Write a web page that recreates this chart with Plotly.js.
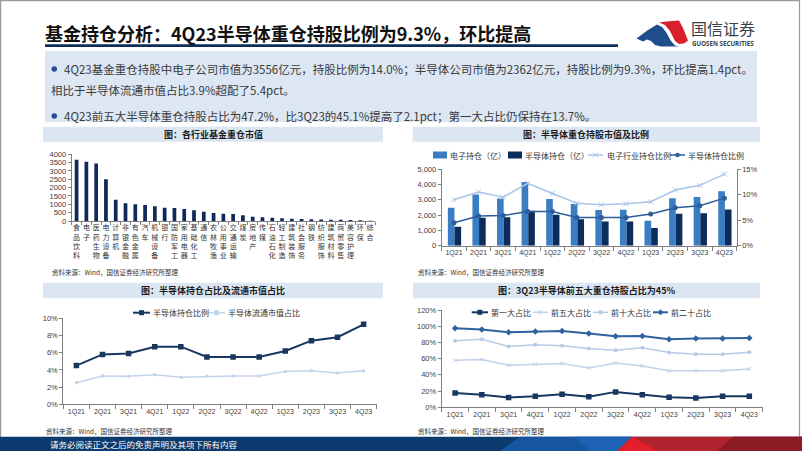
<!DOCTYPE html>
<html><head><meta charset="utf-8">
<script src="https://cdn.plot.ly/plotly-3.0.1.min.js"></script>
<style>html,body{margin:0;padding:0;background:#fff;overflow:hidden}#c{width:802px;height:451px}</style>
</head><body><div id="c"></div>
<script>
// ---------- data ----------
const industries = ['食品饮料','电子','医药生物','电力设备','计算机','非银金融','有色金属','汽车','机械设备','银行','国防军工','家用电器','基础化工','通信','农林牧渔','公用事业','交通运输','煤炭','房地产','传媒','石油石化','轻工制造','建筑装饰','社会服务','钢铁','纺织服饰','建筑材料','商贸零售','美容护理','环保','综合'];
const industryValues = [3680,3556,3450,2500,1280,1060,1000,960,880,800,780,720,640,560,480,440,420,340,260,220,200,160,140,120,100,90,80,80,60,50,10];

const quarters = ['1Q21','2Q21','3Q21','4Q21','1Q22','2Q22','3Q22','4Q22','1Q23','2Q23','3Q23','4Q23'];
const elecHold = [2480,3330,3080,4150,3040,2720,2330,2350,1620,3090,3180,3556];
const semiHold = [1230,1820,1860,2280,2010,1720,1580,1580,1160,2080,2110,2362];
const elecRatio = [9.0,10.5,9.5,12.2,10.2,8.3,8.0,8.2,8.6,10.9,11.8,14.0];
const semiRatio = [4.5,5.8,5.9,6.7,6.7,5.5,5.5,5.5,6.2,7.4,7.8,9.3];
const semiFloatRatio = [2.5,3.3,3.25,3.45,3.15,3.25,3.3,3.3,3.8,3.9,3.65,3.9];

const top1 = [17.5,15.5,12.0,13.5,16.0,13.0,19.0,15.5,12.5,11.5,13.7,13.7];
const top5 = [58.0,59.0,52.0,53.0,54.0,48.5,54.5,51.0,45.0,45.0,45.1,47.2];
const top10 = [82.0,84.0,75.0,77.0,76.0,72.5,70.5,73.5,67.5,65.5,65.5,68.0];
const top20 = [97.5,96.0,92.5,93.5,94.0,91.0,87.5,88.0,84.0,85.0,85.0,85.5];

// ---------- helpers ----------
const W = 802, H = 451;
const X = x => x / W, Y = y => 1 - y / H;
const CN = '"Noto Sans CJK SC", sans-serif';
const NUM = '"Liberation Sans", "Noto Sans CJK SC", sans-serif';
const AX = '#7f7f7f', TXT = '#404040';

function txt(text, x, y, size, opts) {
  opts = opts || {};
  return Object.assign({text: text, x: X(x), y: Y(y), xref: 'paper', yref: 'paper', showarrow: false,
    xanchor: 'left', yanchor: 'middle', borderpad: 0, font: {family: CN, size: size, color: '#333'}}, opts);
}
function rect(x0, y0, x1, y1, fill, extra) {
  return Object.assign({type: 'rect', xref: 'paper', yref: 'paper', x0: X(x0), x1: X(x1), y0: Y(y1), y1: Y(y0),
    fillcolor: fill, line: {width: 0}, layer: 'below'}, extra || {});
}
function poly(pts, fill) {
  return {type: 'path', xref: 'paper', yref: 'paper', layer: 'above', fillcolor: fill, line: {width: 0},
    path: 'M' + pts.map(p => X(p[0]) + ',' + Y(p[1])).join('L') + 'Z'};
}
function lineSeg(x0, y0, x1, y1, color, w) {
  return {type: 'line', xref: 'paper', yref: 'paper', x0: X(x0), x1: X(x1), y0: Y(y0), y1: Y(y1), line: {color: color, width: w}};
}
function legendLine(x0, x1, y, color, w, marker) {
  const s = [lineSeg(x0, y, x1, y, color, w)];
  const cx = (x0 + x1) / 2;
  if (marker === 'square') s.push(rect(cx - 2.5, y - 2.5, cx + 2.5, y + 2.5, color, {layer: 'above'}));
  if (marker === 'circle') s.push({type: 'circle', xref: 'paper', yref: 'paper', x0: X(cx - 2.3), x1: X(cx + 2.3), y0: Y(y + 2.3), y1: Y(y - 2.3), fillcolor: color, line: {width: 0}});
  if (marker === 'diamond') s.push(poly([[cx, y - 3], [cx + 3, y], [cx, y + 3], [cx - 3, y]], color));
  if (marker === 'x') { s.push(lineSeg(cx - 2.5, y - 2.5, cx + 2.5, y + 2.5, color, 1)); s.push(lineSeg(cx - 2.5, y + 2.5, cx + 2.5, y - 2.5, color, 1)); }
  return s;
}
function baseAxis(extra) {
  return Object.assign({showgrid: false, zeroline: false, showline: true, linecolor: AX, linewidth: 1,
    ticks: 'outside', ticklen: 3, tickcolor: AX, tickfont: {family: NUM, size: 7.5, color: TXT}, fixedrange: true}, extra);
}
function catAxis(extra) {
  return baseAxis(Object.assign({type: 'category', range: [-0.5, 11.5], tickson: 'boundaries', ticklen: 4,
    tickangle: 0, tickfont: {family: NUM, size: 7, color: TXT}}, extra));
}

// ---------- traces ----------
const traces = [
  {type: 'bar', x: industries, y: industryValues, xaxis: 'x', yaxis: 'y', width: 0.38, marker: {color: '#10295a'}},
  {type: 'bar', x: quarters, y: elecHold, xaxis: 'x2', yaxis: 'y2', width: 0.27, offset: -0.25, marker: {color: '#3a7dc3'}, name: '电子持仓（亿）'},
  {type: 'bar', x: quarters, y: semiHold, xaxis: 'x2', yaxis: 'y2', width: 0.27, offset: 0.02, marker: {color: '#0c2d5c'}, name: '半导体持仓（亿）'},
  {type: 'scatter', mode: 'lines+markers', x: quarters, y: elecRatio, xaxis: 'x2', yaxis: 'y5', name: '电子行业持仓比例',
   line: {color: '#a9c4e8', width: 1.5}, marker: {symbol: 'x-thin-open', size: 5, line: {color: '#a9c4e8', width: 1}}},
  {type: 'scatter', mode: 'lines+markers', x: quarters, y: semiRatio, xaxis: 'x2', yaxis: 'y5', name: '半导体持仓比例',
   line: {color: '#2d5e99', width: 1.5}, marker: {symbol: 'circle', size: 5, color: '#2d5e99'}},
  {type: 'scatter', mode: 'lines+markers', x: quarters, y: semiRatio, xaxis: 'x3', yaxis: 'y3', name: '半导体持仓比例',
   line: {color: '#17375e', width: 2}, marker: {symbol: 'square', size: 5.5, color: '#17375e'}},
  {type: 'scatter', mode: 'lines+markers', x: quarters, y: semiFloatRatio, xaxis: 'x3', yaxis: 'y3', name: '半导体流通市值占比',
   line: {color: '#c3d4eb', width: 1.5}, marker: {symbol: 'square', size: 3, color: '#c3d4eb'}},
  {type: 'scatter', mode: 'lines+markers', x: quarters, y: top1, xaxis: 'x4', yaxis: 'y4', name: '第一大占比',
   line: {color: '#17375e', width: 2}, marker: {symbol: 'square', size: 5.5, color: '#17375e'}},
  {type: 'scatter', mode: 'lines+markers', x: quarters, y: top5, xaxis: 'x4', yaxis: 'y4', name: '前五大占比',
   line: {color: '#c2d2ea', width: 1.5}, marker: {symbol: 'x-thin-open', size: 4, line: {color: '#c2d2ea', width: 1}}},
  {type: 'scatter', mode: 'lines+markers', x: quarters, y: top10, xaxis: 'x4', yaxis: 'y4', name: '前十大占比',
   line: {color: '#b7cbe6', width: 1.5}, marker: {symbol: 'circle', size: 4, color: '#b7cbe6'}},
  {type: 'scatter', mode: 'lines+markers', x: quarters, y: top20, xaxis: 'x4', yaxis: 'y4', name: '前二十占比',
   line: {color: '#2e62a0', width: 2}, marker: {symbol: 'diamond', size: 5, color: '#2e62a0'}}
];

// ---------- shapes ----------
const shapes = [
  {type: 'rect', xref: 'paper', yref: 'paper', x0: X(0.6), x1: X(799.5), y0: Y(450.5), y1: Y(0.6), line: {color: '#9a9a9a', width: 1.2}, fillcolor: 'rgba(0,0,0,0)'},
  rect(45, 44.3, 618, 47, '#0d2d5a'),
  rect(45, 51, 757, 122, '#dde7f3'),
  {type: 'circle', xref: 'paper', yref: 'paper', x0: X(51.5), x1: X(57), y0: Y(71.8), y1: Y(66.3), fillcolor: '#2b4c8c', line: {width: 0}},
  {type: 'circle', xref: 'paper', yref: 'paper', x0: X(51.5), x1: X(57), y0: Y(118.8), y1: Y(113.3), fillcolor: '#2b4c8c', line: {width: 0}},
  rect(43, 126.7, 383, 141.7, '#dce6f2'),
  rect(412.7, 126.7, 760, 141.7, '#dce6f2'),
  rect(43, 282.7, 383, 298.3, '#dce6f2'),
  rect(413, 282.7, 760, 298.3, '#dce6f2'),
  rect(0, 436.8, 802, 451, '#0b3b6e', {layer: 'above'}),
  poly([[520, 436.8], [632, 436.8], [617, 451], [500, 451]], '#1656a0'),
  poly([[575, 436.8], [632, 436.8], [617, 451], [590, 451]], '#1d62b5'),
  poly([[632, 436.8], [802, 436.8], [802, 451], [617, 451]], '#b0232f'),
  poly([[632, 436.8], [657, 451], [617, 451]], '#e3202a'),
  poly([[733, 436.8], [802, 436.8], [802, 451], [717, 451]], '#8c1b23'),
  poly([[636.5, 38.5], [648, 30], [657, 24.5], [662, 27], [666, 32], [671, 41], [675, 45.5], [679, 46.5], [661, 46.5], [655, 45], [651, 41], [647, 39.5], [643, 41.5]], '#1f4e8c'),
  poly([[659, 22.5], [666, 21.5], [679, 20.5], [683, 28], [688, 40.5], [684, 43.5], [679, 44], [675, 41], [670, 31], [665, 25]], '#d8212b')
];
shapes.push(rect(433, 151.5, 447, 158.5, '#3a7dc3', {layer: 'above'}));
shapes.push(rect(508, 151.5, 522, 158.5, '#0c2d5c', {layer: 'above'}));
shapes.push(...legendLine(588, 603, 155, '#a9c4e8', 1.5, 'x'));
shapes.push(...legendLine(670, 685, 155, '#2d5e99', 1.5, 'circle'));
shapes.push(...legendLine(133, 150, 312.7, '#17375e', 2, 'square'));
shapes.push(...legendLine(208, 225, 312.7, '#c3d4eb', 1.5, 'square'));
shapes.push(...legendLine(471.7, 488, 312.3, '#17375e', 2, 'square'));
shapes.push(...legendLine(533, 548, 312.3, '#c2d2ea', 1.5, 'x'));
shapes.push(...legendLine(593, 608, 312.3, '#b7cbe6', 1.5, 'circle'));
shapes.push(...legendLine(653, 668, 312.3, '#2e62a0', 2, 'diamond'));

// ---------- annotations ----------
const SRC = '资料来源：Wind，国信证券经济研究所整理';
const ann = [
  txt('<b>基金持仓分析：4Q23半导体重仓持股比例为9.3%，环比提高</b>', 44, 33, 18, {font: {family: CN, size: 18, color: '#111'}}),
  txt('国信证券', 690, 27.5, 16, {font: {family: CN, size: 16, color: '#3b3f4a'}}),
  txt('<b>GUOSEN SECURITIES</b>', 690.5, 43.5, 6.2, {font: {family: '"Open Sans", sans-serif', size: 6.2, color: '#3b3f4a'}}),
  txt('4Q23基金重仓持股中电子公司市值为3556亿元，持股比例为14.0%；半导体公司市值为2362亿元，持股比例为9.3%，环比提高1.4pct。', 63, 69, 11.5, {font: {family: CN, size: 11.5, color: '#3a3a3a'}}),
  txt('相比于半导体流通市值占比3.9%超配了5.4pct。', 50, 89.5, 11.5, {font: {family: CN, size: 11.5, color: '#3a3a3a'}}),
  txt('4Q23前五大半导体重仓持股占比为47.2%，比3Q23的45.1%提高了2.1pct；第一大占比仍保持在13.7%。', 63, 116, 11.5, {font: {family: CN, size: 11.5, color: '#3a3a3a'}}),
  txt('<b>图：各行业基金重仓市值</b>', 213, 134.2, 9, {xanchor: 'center', font: {family: CN, size: 9, color: '#1a1a1a'}}),
  txt('<b>图：半导体重仓持股市值及比例</b>', 586, 134.2, 9, {xanchor: 'center', font: {family: CN, size: 9, color: '#1a1a1a'}}),
  txt('<b>图：半导体持仓占比及流通市值占比</b>', 213, 290.5, 9, {xanchor: 'center', font: {family: CN, size: 9, color: '#1a1a1a'}}),
  txt('<b>图：3Q23半导体前五大重仓持股占比为45%</b>', 586, 290.5, 9, {xanchor: 'center', font: {family: CN, size: 9, color: '#1a1a1a'}}),
  txt('电子持仓（亿）', 449, 155, 8, {font: {family: CN, size: 8, color: '#333'}}),
  txt('半导体持仓（亿）', 524, 155, 8, {font: {family: CN, size: 8, color: '#333'}}),
  txt('电子行业持仓比例', 606, 155, 8, {font: {family: CN, size: 8, color: '#333'}}),
  txt('半导体持仓比例', 687, 155, 8, {font: {family: CN, size: 8, color: '#333'}}),
  txt('半导体持仓比例', 152, 312.7, 8, {font: {family: CN, size: 8, color: '#333'}}),
  txt('半导体流通市值占比', 227, 312.7, 8, {font: {family: CN, size: 8, color: '#333'}}),
  txt('第一大占比', 490, 312.3, 8, {font: {family: CN, size: 8, color: '#333'}}),
  txt('前五大占比', 550, 312.3, 8, {font: {family: CN, size: 8, color: '#333'}}),
  txt('前十大占比', 610, 312.3, 8, {font: {family: CN, size: 8, color: '#333'}}),
  txt('前二十占比', 670, 312.3, 8, {font: {family: CN, size: 8, color: '#333'}}),
  txt(SRC, 51, 271.7, 6.5, {font: {family: CN, size: 6.5, color: '#333'}}),
  txt(SRC, 417, 271.7, 6.5, {font: {family: CN, size: 6.5, color: '#333'}}),
  txt(SRC, 45, 431, 6.5, {font: {family: CN, size: 6.5, color: '#333'}}),
  txt(SRC, 417, 430.7, 6.5, {font: {family: CN, size: 6.5, color: '#333'}}),
  txt('请务必阅读正文之后的免责声明及其项下所有内容', 49, 444, 8.5, {font: {family: CN, size: 8.5, color: '#ffffff'}})
];

// ---------- layout ----------
const layout = {
  width: W, height: H, autosize: false, margin: {l: 0, r: 0, t: 0, b: 0, pad: 0},
  paper_bgcolor: '#ffffff', plot_bgcolor: 'rgba(0,0,0,0)', showlegend: false,
  font: {family: CN, size: 8, color: TXT},
  barmode: 'overlay',
  xaxis: baseAxis({domain: [X(71.7), X(375)], anchor: 'y', type: 'category', range: [-0.5, 30.5], tickson: 'boundaries', ticklen: 3,
    tickmode: 'array', tickvals: industries, ticktext: industries.map(s => s.split('').join('<br>')), tickangle: 0,
    tickfont: {family: CN, size: 7, color: '#333'}}),
  yaxis: baseAxis({domain: [Y(221), Y(154.3)], anchor: 'x', range: [0, 4000], dtick: 500, tickformat: 'd'}),
  xaxis2: catAxis({domain: [X(441.7), X(736.7)], anchor: 'y2'}),
  yaxis2: baseAxis({domain: [Y(245.7), Y(169)], anchor: 'x2', range: [0, 5000], dtick: 1000, tickformat: ',d'}),
  yaxis5: baseAxis({overlaying: 'y2', side: 'right', anchor: 'x2', range: [0, 15], dtick: 5, ticksuffix: '%'}),
  xaxis3: catAxis({domain: [X(63.3), X(376.7)], anchor: 'y3'}),
  yaxis3: baseAxis({domain: [Y(404.3), Y(318.3)], anchor: 'x3', range: [0, 10], dtick: 2, ticksuffix: '%'}),
  xaxis4: catAxis({domain: [X(441.7), X(762.7)], anchor: 'y4'}),
  yaxis4: baseAxis({domain: [Y(407.3), Y(310)], anchor: 'x4', range: [0, 120], dtick: 20, ticksuffix: '%'}),
  shapes: shapes,
  annotations: ann
};

Plotly.newPlot('c', traces, layout, {displayModeBar: false, staticPlot: true});
</script>
</body></html>
